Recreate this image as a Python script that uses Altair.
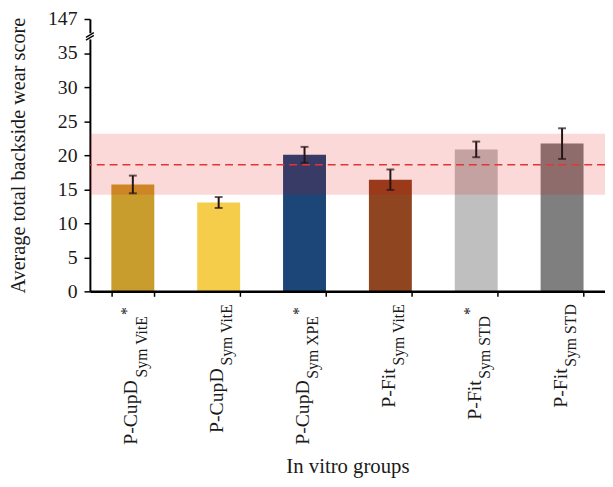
import altair as alt
import pandas as pd

# ---- data ----
groups = ["P-CupD Sym VitE *", "P-CupD Sym VitE", "P-CupD Sym XPE *",
          "P-Fit Sym VitE", "P-Fit Sym STD *", "P-Fit Sym STD"]
label_main = ["P-CupD", "P-CupD", "P-CupD", "P-Fit", "P-Fit", "P-Fit"]
label_sub = ["Sym VitE", "Sym VitE", "Sym XPE", "Sym VitE", "Sym STD", "Sym STD"]
label_star = ["*", "", "*", "", "*", ""]
means = [15.7, 13.05, 20.05, 16.4, 20.85, 21.7]
errors = [1.3, 0.8, 1.17, 1.5, 1.15, 2.25]
bar_colors = ["#c99d2d", "#f6cd4b", "#1b4677", "#8f4520", "#bfbfbf", "#7f7f7f"]
ref_mean = [18.6]
ref_low = [14.2]
ref_high = [23.15]
y_ticks = [0, 5, 10, 15, 20, 25, 30, 35, 40]
top_label = "147"
break_at = [37.45]

W, H = 522, 276
SERIF = "Liberation Serif"
INK = "#1a1a1a"

df = pd.DataFrame({
    "group": groups, "main": label_main, "sub": label_sub, "star": label_star,
    "mean": means, "err": errors,
})
df["low"] = df["mean"] - df["err"]
df["high"] = df["mean"] + df["err"]
band_df = pd.DataFrame({"mean": ref_mean, "low": ref_low, "high": ref_high})
brk_df = pd.DataFrame({"b": break_at})

xscale = alt.Scale(domain=groups, paddingInner=0.5, paddingOuter=0.25)
yscale = alt.Scale(domain=[0, 40], nice=False, zero=True)

x_axis = alt.Axis(labels=False, title="In vitro groups", titleFont=SERIF,
                  titleFontSize=21, titleFontWeight="normal", titleColor=INK,
                  titleX=W / 2, titleY=184, titleAlign="center",
                  titleBaseline="alphabetic", tickBand="extent", tickSize=5,
                  tickWidth=1.5, tickColor="black", domainColor="black",
                  domainWidth=2.5, zindex=1)
y_axis = alt.Axis(values=y_ticks,
                  labelExpr=f"datum.value == 40 ? '{top_label}' : datum.label",
                  title="Average total backside wear score", titleFont=SERIF,
                  titleFontSize=20.5, titleFontWeight="normal", titleColor=INK,
                  titleX=-66, titleY=H / 2, titleAngle=270, titleAlign="center",
                  titleBaseline="alphabetic", labelFont=SERIF, labelFontSize=20,
                  labelColor=INK, labelPadding=7, tickSize=6, tickWidth=1.5,
                  tickColor="black", domainColor="black", domainWidth=2,
                  grid=False, labelFlush=False)

def X():
    return alt.X("group:N", sort=groups, scale=xscale, axis=x_axis)

def Y(field):
    return alt.Y(field, scale=yscale, axis=y_axis)

base = alt.Chart(df)

bars = base.mark_bar().encode(
    x=X(), y=Y("mean:Q"),
    color=alt.Color("group:N", scale=alt.Scale(domain=groups, range=bar_colors), legend=None),
)

band = alt.Chart(band_df).mark_rect(color="#e60000", opacity=0.15).encode(
    y=Y("low:Q"), y2="high:Q")

ref_line = alt.Chart(band_df).mark_rule(color="#e23535", strokeDash=[8, 5], strokeWidth=1.6).encode(
    y=Y("mean:Q"))

err_rule = base.mark_rule(color="#241414", strokeWidth=2).encode(
    x=X(), y=Y("low:Q"), y2="high:Q")
err_cap_lo = base.mark_tick(color="#241414", size=8, thickness=2).encode(
    x=X(), y=Y("low:Q"))
err_cap_hi = base.mark_tick(color="#241414", size=8, thickness=2).encode(
    x=X(), y=Y("high:Q"))

# axis break
brk = alt.Chart(brk_df).transform_calculate(
    lo="datum.b - 0.45", hi="datum.b + 0.45",
    lo1="datum.b - 0.55", hi1="datum.b + 0.15",
    lo2="datum.b - 0.15", hi2="datum.b + 0.55")
brk_gap = brk.mark_rule(color="white", strokeWidth=5).encode(
    x=alt.value(0), y=Y("lo:Q"), y2="hi:Q")
brk_s1 = brk.mark_rule(color="black", strokeWidth=1.3).encode(
    x=alt.value(-4), x2=alt.value(4), y=Y("lo1:Q"), y2="hi1:Q")
brk_s2 = brk.mark_rule(color="black", strokeWidth=1.3).encode(
    x=alt.value(-4), x2=alt.value(4), y=Y("lo2:Q"), y2="hi2:Q")

# custom rotated x labels with subscripts and superscripts
def lbl(text_field, size, dy, ypix, starred):
    cond = "datum.star != ''" if starred else "datum.star == ''"
    return base.transform_filter(cond).mark_text(
        angle=270, align="right", baseline="alphabetic", font=SERIF,
        fontSize=size, dy=dy, color=INK).encode(
        x=X(), y=alt.value(ypix), text=f"{text_field}:N")

SUB_W = 65
labels = [
    lbl("sub", 16, 14, H + 13, False),
    lbl("sub", 16, 14, H + 25, True),
    lbl("main", 20, 4.5, H + 13 + SUB_W, False),
    lbl("main", 20, 4.5, H + 25 + SUB_W, True),
    lbl("star", 16, -1, H + 16, True),
]

chart = alt.layer(
    bars, band, ref_line, err_rule, err_cap_lo, err_cap_hi,
    brk_gap, brk_s1, brk_s2, *labels
).properties(
    width=W, height=H,
    background="white",
    autosize=alt.AutoSizeParams(type="none"),
    padding={"left": 83, "top": 8, "right": 0, "bottom": 187},
).configure_view(stroke=None)

chart.save("out.html", embed_options={"renderer": "svg", "actions": False})
